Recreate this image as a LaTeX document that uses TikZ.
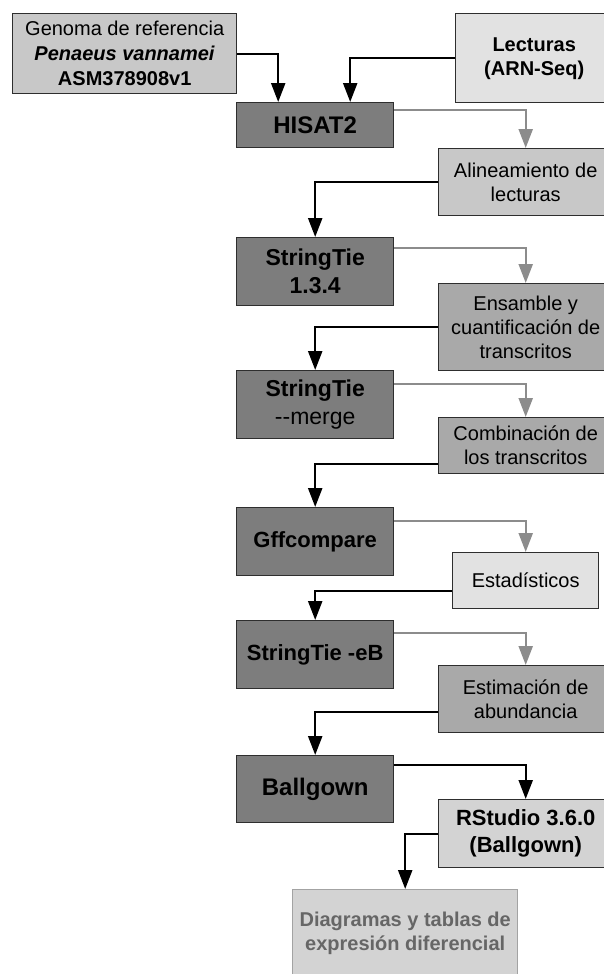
\documentclass[tikz,border=0pt]{standalone}
\usepackage{fontspec}
\setmainfont{Liberation Sans}
\usetikzlibrary{arrows.meta}
\definecolor{tooldark}{HTML}{7D7D7D}
\definecolor{datamid}{HTML}{A9A9A9}
\definecolor{datalight}{HTML}{C8C8C8}
\definecolor{datapale}{HTML}{E2E2E2}
\definecolor{resultfill}{HTML}{D3D3D3}
\definecolor{edgegray}{HTML}{2E2E2E}
\definecolor{arrowgray}{HTML}{8C8C8C}
\definecolor{fadedtext}{HTML}{666666}

\begin{document}
\begin{tikzpicture}[
    x=1pt, y=-1pt,
    base/.style={draw=edgegray, line width=1.4pt, anchor=north west, inner sep=0pt, align=center, font=\fontsize{20}{24}\selectfont},
    tool/.style={base, fill=tooldark, minimum width=157pt, font=\bfseries\fontsize{23}{28}\selectfont},
    data/.style={base, minimum width=174pt},
    arrow/.style={-{Triangle[length=19pt,width=14pt]}, line width=2.3pt},
    grayarrow/.style={arrow, draw=arrowgray},
]
    \useasboundingbox (0,0) rectangle (604,974);

    % inputs
    \node[base, fill=datalight, minimum width=224pt, minimum height=80pt, font=\fontsize{20}{25}\selectfont] (genoma) at (12,13)
        {Genoma de referencia\\ \textbf{\textit{Penaeus vannamei}}\\ \textbf{ASM378908v1}};
    \node[base, fill=datapale, minimum width=157pt, minimum height=89pt, font=\bfseries\fontsize{20}{24}\selectfont] (lect) at (455,13)
        {Lecturas\\ (ARN-Seq)};

    % tools (left column)
    \node[tool, minimum height=45pt, font=\bfseries\fontsize{24}{28}\selectfont] (hisat) at (236,102) {HISAT2};
    \node[tool, minimum height=68pt] (stie) at (236,237) {StringTie\\ 1.3.4};
    \node[tool, minimum height=68pt] (merge) at (236,370) {StringTie\\ \mdseries -\kern0pt-merge};
    \node[tool, minimum height=68pt, font=\bfseries\fontsize{22}{28}\selectfont] (gff) at (236,507) {Gffcompare};
    \node[tool, minimum height=68pt, font=\bfseries\fontsize{22}{28}\selectfont] (eb) at (236,620) {StringTie -eB};
    \node[tool, minimum height=67pt, font=\bfseries\fontsize{24}{28}\selectfont] (ball) at (236,755) {Ballgown};

    % outputs (right column)
    \node[data, fill=datalight, minimum height=67pt] (alin) at (438,148) {Alineamiento de\\ lecturas};
    \node[data, fill=datamid, minimum height=87pt] (ens) at (438,283) {Ensamble y\\ cuantificación de\\ transcritos};
    \node[data, fill=datamid, minimum height=56pt] (comb) at (438,417) {Combinación de\\ los transcritos};
    \node[base, fill=datapale, minimum width=146pt, minimum height=56pt] (stats) at (452,552) {Estadísticos};
    \node[data, fill=datamid, minimum height=67pt] (estim) at (438,665) {Estimación de\\ abundancia};
    \node[data, fill=resultfill, minimum height=68pt, font=\bfseries\fontsize{22}{27}\selectfont] (rstudio) at (438,799) {RStudio 3.6.0\\ (Ballgown)};
    \node[base, draw=arrowgray!80, fill=resultfill, text=fadedtext, minimum width=225pt, minimum height=87pt, font=\bfseries\fontsize{20}{24}\selectfont] (diag) at (292,889)
        {Diagramas y tablas de\\ expresión diferencial};

    % connectors
    \draw[arrow] (genoma.east) -| ([xshift=-37pt]hisat.north);
    \draw[arrow] (lect.west) -| ([xshift=35pt]hisat.north);
    \draw[grayarrow] ([yshift=-8pt]hisat.north east) -| (alin.north);
    \draw[arrow] (alin.west) -| (stie.north);
    \draw[grayarrow] ([yshift=-11pt]stie.north east) -| (ens.north);
    \draw[arrow] (ens.west) -| (merge.north);
    \draw[grayarrow] ([yshift=-14pt]merge.north east) -| (comb.north);
    \draw[arrow] ([yshift=-18pt]comb.west) -| (gff.north);
    \draw[grayarrow] ([yshift=-14pt]gff.north east) -| (stats.north);
    \draw[arrow] ([yshift=-10pt]stats.west) -| (eb.north);
    \draw[grayarrow] ([yshift=-13pt]eb.north east) -| (estim.north);
    \draw[arrow] ([yshift=-13pt]estim.west) -| (ball.north);
    \draw[arrow] ([yshift=-10pt]ball.north east) -| (rstudio.north);
    \draw[arrow] (rstudio.west) -| (diag.north);
\end{tikzpicture}
\end{document}
